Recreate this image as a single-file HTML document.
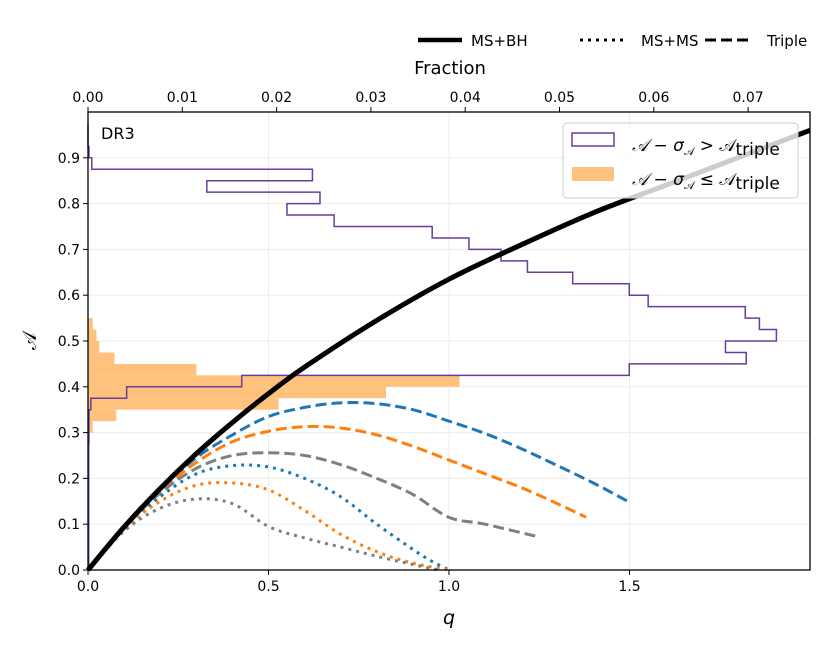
<!DOCTYPE html>
<html><head><meta charset="utf-8"><style>
body{margin:0;background:#fff}
svg text{font-family:"DejaVu Sans","Liberation Sans",sans-serif;fill:#000}
</style></head><body>
<svg id="c" width="830" height="649" xmlns="http://www.w3.org/2000/svg"></svg>
<script>
const binsLo=[0.275,0.3,0.325,0.35,0.375,0.4,0.425,0.45,0.475,0.5,0.525,0.55,0.575,0.6,0.625,0.65,0.675,0.7,0.725,0.75,0.775,0.8,0.825,0.85,0.875,0.9];
const fracHigh=[0.0001,0.0001,0.0001,0.0003,0.0041,0.0163,0.0574,0.0698,0.0676,0.0730,0.0712,0.0697,0.0594,0.0574,0.0514,0.0466,0.0438,0.0404,0.0365,0.0261,0.0211,0.0246,0.0126,0.0238,0.0004,0.0001];
const fracLow=[0.0001,0.0005,0.0030,0.0202,0.0316,0.0394,0.0115,0.0028,0.0012,0.0009,0.0005,0,0,0,0,0,0,0,0,0,0,0,0,0,0,0];
const bhQ=[0,0.1,0.2,0.3,0.4,0.5,0.6,0.8,1.0,1.2,1.4,1.6,1.8,2.0];
const bhA=[0,0.094,0.178,0.254,0.322,0.385,0.443,0.545,0.635,0.71,0.78,0.84,0.9,0.96];
const tBlueQ=[0,0.1,0.2,0.3,0.4,0.5,0.6,0.7,0.8,0.9,1.0,1.1,1.2,1.3,1.4,1.5];
const tBlueA=[0,0.094,0.175,0.245,0.295,0.335,0.355,0.365,0.363,0.35,0.325,0.298,0.265,0.228,0.19,0.148];
const tOrQ=[0,0.1,0.2,0.3,0.4,0.5,0.6,0.7,0.8,0.9,1.0,1.1,1.2,1.3,1.38];
const tOrA=[0,0.094,0.172,0.235,0.28,0.303,0.313,0.31,0.295,0.27,0.24,0.21,0.18,0.145,0.115];
const tGrQ=[0,0.1,0.2,0.3,0.4,0.5,0.6,0.7,0.8,0.9,1.0,1.1,1.25];
const tGrA=[0,0.093,0.168,0.222,0.25,0.256,0.25,0.23,0.2,0.165,0.115,0.1,0.072];
const mBlueQ=[0,0.1,0.2,0.3,0.4,0.5,0.6,0.7,0.8,0.9,0.95,1.0];
const mBlueA=[0,0.092,0.16,0.21,0.228,0.225,0.2,0.16,0.1,0.045,0.02,0];
const mOrQ=[0,0.1,0.2,0.3,0.4,0.5,0.6,0.7,0.8,0.9,1.0];
const mOrA=[0,0.09,0.15,0.185,0.19,0.175,0.13,0.078,0.04,0.015,0];
const mGrQ=[0,0.1,0.2,0.3,0.4,0.5,0.6,0.7,0.8,0.9,0.97];
const mGrA=[0,0.085,0.135,0.155,0.145,0.095,0.07,0.05,0.03,0.012,0];
const qTicks=[0,0.5,1.0,1.5];
const qTickLabels=["0.0","0.5","1.0","1.5"];
const aTicks=[0,0.1,0.2,0.3,0.4,0.5,0.6,0.7,0.8,0.9];
const fTicks=[0,0.01,0.02,0.03,0.04,0.05,0.06,0.07];

const L=88,R=810,T=112,B=570;
const X=q=>L+q*361;
const Y=a=>B-a*458;
const F=f=>L+f*9430;
const svg=document.getElementById('c');
const NS='http://www.w3.org/2000/svg';
function mk(tag,attrs,parent){const e=document.createElementNS(NS,tag);for(const k in attrs)e.setAttribute(k,attrs[k]);(parent||svg).appendChild(e);return e;}

qTicks.forEach(q=>{const g=mk('line',{x1:X(q),x2:X(q),y1:T,y2:B,stroke:'#ebebeb','stroke-width':1});

});
aTicks.forEach(a=>{const g=mk('line',{x1:L,x2:R,y1:Y(a),y2:Y(a),stroke:'#ebebeb','stroke-width':1});

});

binsLo.forEach((lo,i)=>{if(fracLow[i]<=0)return;const r=mk('rect',{x:L,y:Y(lo+0.025),width:F(fracLow[i])-L,height:Y(lo)-Y(lo+0.025),fill:'#ffc27d'});

});

let d=`M${L},${Y(binsLo[0])}`;
binsLo.forEach((lo,i)=>{d+=` L${F(fracHigh[i])},${Y(lo)} L${F(fracHigh[i])},${Y(lo+0.025)}`;});
d+=` L${L},${Y(binsLo[binsLo.length-1]+0.025)} L${L},${Y(0.975)}`;
const ph=mk('path',{d:d,fill:'none',stroke:'#6a3d9a','stroke-width':1.5});


const pl=mk('line',{x1:L+0.7,x2:L+0.7,y1:Y(0),y2:Y(0.3),stroke:'#6a3d9a','stroke-width':1.5});



function smooth(pts){
 let s=`M${pts[0][0]},${pts[0][1]}`;
 for(let i=0;i<pts.length-1;i++){
  const p0=pts[Math.max(i-1,0)],p1=pts[i],p2=pts[i+1],p3=pts[Math.min(i+2,pts.length-1)];
  const c1x=p1[0]+(p2[0]-p0[0])/6,c1y=p1[1]+(p2[1]-p0[1])/6;
  const c2x=p2[0]-(p3[0]-p1[0])/6,c2y=p2[1]-(p3[1]-p1[1])/6;
  s+=` C${c1x},${c1y} ${c2x},${c2y} ${p2[0]},${p2[1]}`;
 }
 return s;
}
function line(qs,as,color,w,dash,name){
 const p=mk('path',{d:smooth(qs.map((q,i)=>[X(q),Y(as[i])])),fill:'none',stroke:color,'stroke-width':w,'stroke-dasharray':dash,'stroke-linejoin':'round'});
 
 
}
line(tBlueQ,tBlueA,'#1f77b4',3,'11,5','triple-blue');
line(tOrQ,tOrA,'#ff7f0e',3,'11,5','triple-orange');
line(tGrQ,tGrA,'#7f7f7f',3,'11,5','triple-gray');
line(mBlueQ,mBlueA,'#1f77b4',3,'3,5','msms-blue');
line(mOrQ,mOrA,'#ff7f0e',3,'3,5','msms-orange');
line(mGrQ,mGrA,'#7f7f7f',3,'3,5','msms-gray');
line(bhQ,bhA,'#000',5,'none','msbh-line');

const lg=mk('g',{});


mk('rect',{x:563,y:123,width:235,height:75,rx:4,fill:'rgba(255,255,255,0.8)',stroke:'#ccc','stroke-width':1},lg);
mk('rect',{x:572,y:133,width:42,height:13,fill:'none',stroke:'#6a3d9a','stroke-width':1.5},lg);
mk('rect',{x:572,y:167,width:42,height:14,fill:'#ffc27d'},lg);
const t1=mk('text',{x:632,y:151,'font-size':17,'font-family':'DejaVu Serif, serif'},lg);
t1.innerHTML='<tspan font-style="italic">𝒜</tspan> − <tspan font-style="italic">σ</tspan><tspan font-size="11" dy="4">𝒜</tspan><tspan dy="-4"> &gt; 𝒜</tspan><tspan font-family="DejaVu Sans,sans-serif" dy="4">triple</tspan>';
const t2=mk('text',{x:632,y:185,'font-size':17,'font-family':'DejaVu Serif, serif'},lg);
t2.innerHTML='<tspan font-style="italic">𝒜</tspan> − <tspan font-style="italic">σ</tspan><tspan font-size="11" dy="4">𝒜</tspan><tspan dy="-4"> ≤ 𝒜</tspan><tspan font-family="DejaVu Sans,sans-serif" dy="4">triple</tspan>';

mk('rect',{x:L,y:T,width:R-L,height:B-T,fill:'none',stroke:'#000','stroke-width':1.3});
qTicks.forEach((q,i)=>{mk('line',{x1:X(q),x2:X(q),y1:B,y2:B+5,stroke:'#000'});
const t=mk('text',{x:X(q),y:B+21,'font-size':14,'text-anchor':'middle'});t.textContent=qTickLabels[i];

});
aTicks.forEach(a=>{mk('line',{x1:L-5,x2:L,y1:Y(a),y2:Y(a),stroke:'#000'});
const t=mk('text',{x:L-8,y:Y(a)+5,'font-size':14,'text-anchor':'end'});t.textContent=a.toFixed(1);

});
fTicks.forEach(f=>{mk('line',{x1:F(f),x2:F(f),y1:T-5,y2:T,stroke:'#000'});
const t=mk('text',{x:F(f),y:T-10,'font-size':14,'text-anchor':'middle'});t.textContent=f.toFixed(2);

});
</script>
<svg width="830" height="649" style="position:absolute;left:0;top:0" xmlns="http://www.w3.org/2000/svg">
<text x="101" y="139" font-size="16">DR3</text>
<text x="449" y="624" font-size="19" font-style="italic" font-family="DejaVu Serif,serif" text-anchor="middle">q</text>
<text x="450" y="74" font-size="18" text-anchor="middle">Fraction</text>
<text x="36" y="341" font-size="19" font-family="DejaVu Serif,serif" text-anchor="middle" transform="rotate(-90 36 341)">𝒜</text>
<g>
<line x1="418" y1="40" x2="462" y2="40" stroke="#000" stroke-width="4.5"/>
<text x="471" y="46" font-size="15">MS+BH</text>
<line x1="580" y1="40" x2="624" y2="40" stroke="#000" stroke-width="3" stroke-dasharray="3,5"/>
<text x="641" y="46" font-size="15">MS+MS</text>
<line x1="705" y1="40" x2="749" y2="40" stroke="#000" stroke-width="3" stroke-dasharray="11,5"/>
<text x="767" y="46" font-size="15">Triple</text>
</g>
</svg>
</body></html>
